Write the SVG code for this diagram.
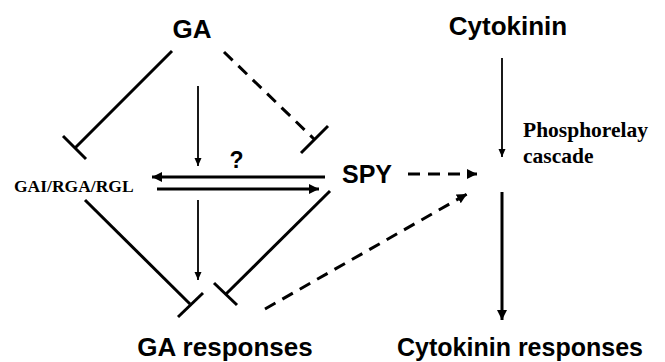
<svg xmlns="http://www.w3.org/2000/svg" width="665" height="362" viewBox="0 0 665 362">
<style>
.sans{font-family:"Liberation Sans",Arial,sans-serif;font-weight:bold;fill:#000}
.serif{font-family:"Liberation Serif","Times New Roman",serif;font-weight:bold;fill:#000}
.thick{stroke:#000;stroke-width:3;fill:none}
.thin{stroke:#000;stroke-width:1.8;fill:none}
.dash{stroke:#000;stroke-width:3;fill:none;stroke-dasharray:12 8}
</style>
<defs>
<marker id="ah" markerUnits="userSpaceOnUse" markerWidth="12" markerHeight="12" refX="10" refY="5" orient="auto" viewBox="0 0 12 10">
<path d="M0,0 L10,5 L0,10 Z" fill="#000"/>
</marker>
<marker id="ahs" markerUnits="userSpaceOnUse" markerWidth="8" markerHeight="8" refX="8" refY="3.5" orient="auto" viewBox="0 0 8 7">
<path d="M0,0 L8,3.5 L0,7 Z" fill="#000"/>
</marker>
</defs>
<rect width="665" height="362" fill="#fff"/>
<g id="connectors">
<line class="thick" x1="172" y1="51" x2="75" y2="148"/>
<line class="thick" x1="63" y1="136" x2="86" y2="159"/>
<line class="dash" x1="224" y1="52" x2="314" y2="139"/>
<line class="thick" x1="328" y1="126" x2="301" y2="153"/>
<line class="thin" x1="198" y1="86" x2="198" y2="166" marker-end="url(#ahs)"/>
<line class="thick" x1="325" y1="177" x2="152" y2="177" marker-end="url(#ah)"/>
<line class="thick" x1="157" y1="189" x2="319" y2="189" marker-end="url(#ah)"/>
<line class="thin" x1="198" y1="200" x2="198" y2="280" marker-end="url(#ahs)"/>
<line class="thick" x1="85" y1="200" x2="190" y2="304"/>
<line class="thick" x1="203" y1="293" x2="178" y2="317"/>
<line class="thick" x1="330" y1="191" x2="226" y2="294"/>
<line class="thick" x1="214" y1="283" x2="237" y2="305"/>
<line class="dash" x1="408" y1="174" x2="477" y2="174" marker-end="url(#ah)"/>
<line class="dash" x1="265" y1="309" x2="467" y2="194" marker-end="url(#ah)"/>
<line class="thin" x1="502" y1="58" x2="502" y2="157" marker-end="url(#ahs)"/>
<line class="thick" x1="502" y1="192" x2="502" y2="320" marker-end="url(#ah)"/>
</g>
<g id="GA"><text class="sans" x="192" y="38" font-size="26" text-anchor="middle">GA</text></g>
<g id="Cytokinin"><text class="sans" x="508" y="35" font-size="26" text-anchor="middle">Cytokinin</text></g>
<g id="GAI"><text class="serif" x="14" y="192" font-size="17.5">GAI/RGA/RGL</text></g>
<g id="SPY"><text class="sans" x="342" y="183" font-size="25">SPY</text></g>
<g id="q"><text class="sans" x="236.5" y="168" font-size="23" text-anchor="middle">?</text></g>
<g id="Phospho"><text class="serif" x="523" y="137" font-size="21.5">Phosphorelay</text><text class="serif" x="523" y="163" font-size="21.5">cascade</text></g>
<g id="GAresp"><text class="sans" x="225" y="356" font-size="26" text-anchor="middle">GA responses</text></g>
<g id="Cytoresp"><text class="sans" x="520" y="356" font-size="25" text-anchor="middle">Cytokinin responses</text></g>
</svg>
